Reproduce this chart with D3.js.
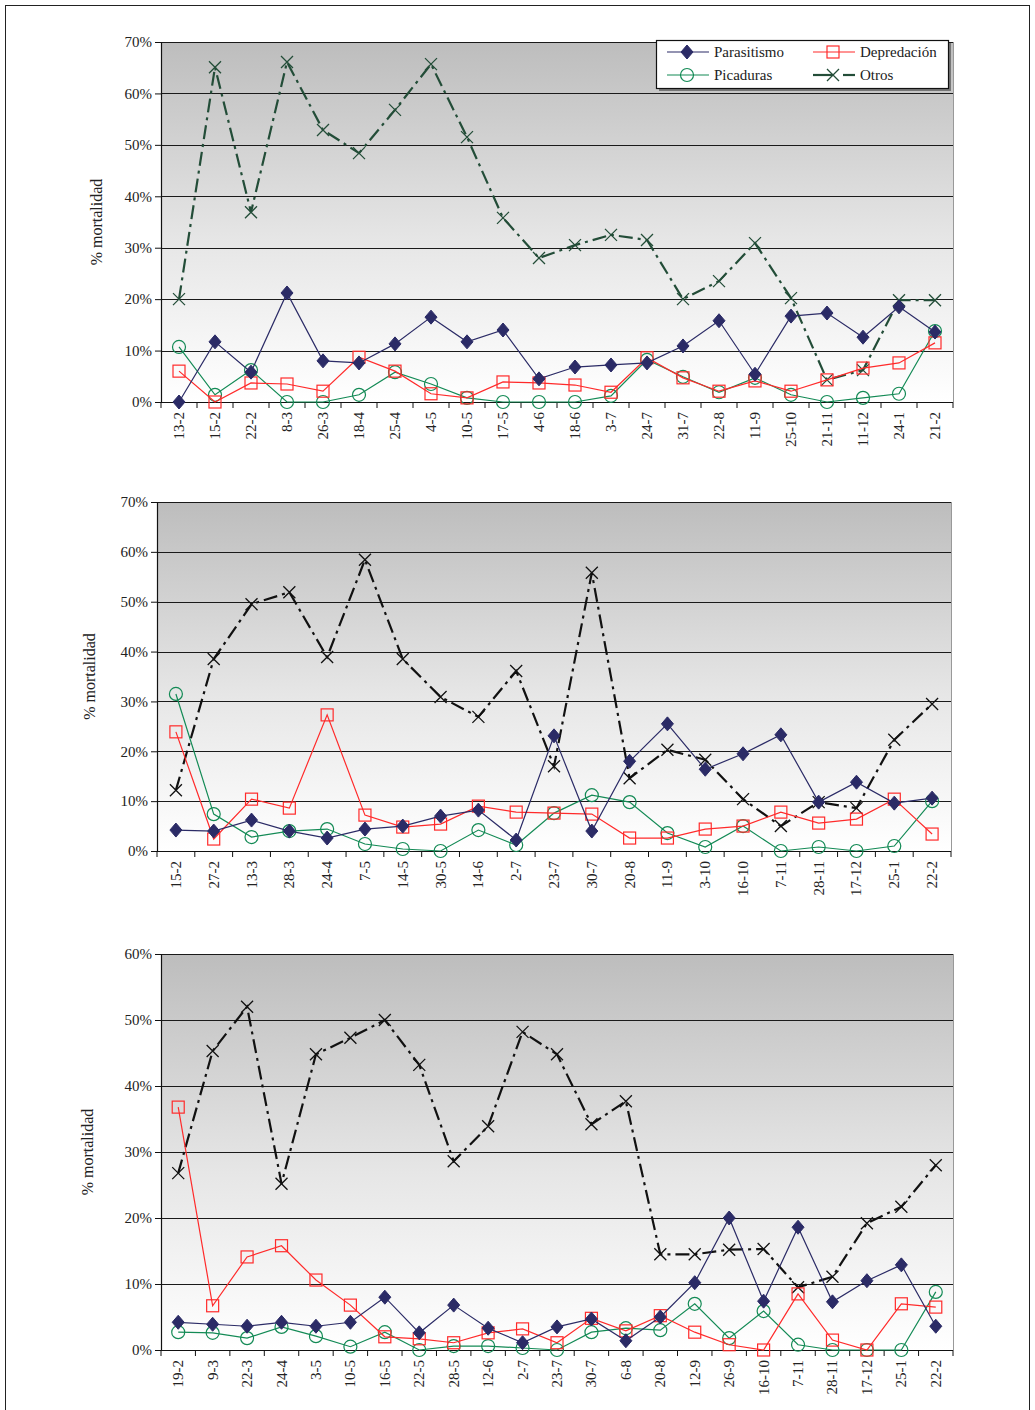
<!DOCTYPE html>
<html><head><meta charset="utf-8">
<script src="https://cdn.jsdelivr.net/npm/d3@7"></script>
<style>body{margin:0;background:#fff}svg{display:block}</style>
</head><body>
<script>
const seriesNames = ["Parasitismo","Depredación","Picaduras","Otros"];

const cats1 = ["13-2","15-2","22-2","8-3","26-3","18-4","25-4","4-5","10-5","17-5","4-6","18-6","3-7","24-7","31-7","22-8","11-9","25-10","21-11","11-12","24-1","21-2"];
const par1 = [0,11.7,5.8,21.2,8.0,7.6,11.3,16.5,11.7,14.0,4.5,6.8,7.2,7.6,10.9,15.8,5.4,16.7,17.3,12.6,18.5,13.6];
const dep1 = [6.0,0,3.7,3.5,2.1,8.7,6.0,1.6,0.8,3.9,3.7,3.3,1.9,8.6,4.7,2.1,4.1,2.1,4.3,6.6,7.6,11.5];
const pic1 = [10.7,1.4,6.2,0,0,1.4,5.8,3.5,0.8,0,0,0,1.2,8.2,4.9,1.9,4.7,1.4,0,0.8,1.6,13.8];
const otr1 = [20.0,65.1,36.9,66.1,52.9,48.4,56.8,65.7,51.5,35.8,28.0,30.5,32.5,31.5,20.0,23.5,30.9,20.2,4.3,6.2,19.8,19.8];

const cats2 = ["15-2","27-2","13-3","28-3","24-4","7-5","14-5","30-5","14-6","2-7","23-7","30-7","20-8","11-9","3-10","16-10","7-11","28-11","17-12","25-1","22-2"];
const par2 = [4.2,4.0,6.2,4.0,2.6,4.4,5.0,7.0,8.2,2.2,23.1,4.0,18.0,25.5,16.4,19.5,23.3,9.8,13.8,9.6,10.6];
const dep2 = [23.9,2.4,10.4,8.6,27.3,7.2,4.8,5.4,9.0,7.8,7.6,7.4,2.6,2.6,4.4,5.0,7.8,5.6,6.4,10.4,3.4];
const pic2 = [31.5,7.4,2.8,4.0,4.4,1.4,0.4,0,4.2,1.2,7.6,11.2,9.8,3.6,0.8,5.0,0,0.8,0,1.0,10.0];
const otr2 = [12.2,38.5,49.5,51.9,38.9,58.4,38.5,30.9,26.9,36.1,17.0,55.8,14.6,20.3,18.3,10.4,5.0,9.8,8.6,22.3,29.5];

const cats3 = ["19-2","9-3","22-3","24-4","3-5","10-5","16-5","22-5","28-5","12-6","2-7","23-7","30-7","6-8","20-8","12-9","26-9","16-10","7-11","28-11","17-12","25-1","22-2"];
const par3 = [4.2,3.9,3.6,4.2,3.6,4.2,8.0,2.6,6.8,3.3,1.1,3.5,4.7,1.4,5.0,10.2,20.0,7.4,18.6,7.3,10.5,12.9,3.6];
const dep3 = [36.8,6.7,14.1,15.8,10.6,6.8,2.0,1.7,1.1,2.6,3.2,1.1,4.8,2.9,5.2,2.7,0.8,0,8.5,1.5,0,7.0,6.5];
const pic3 = [2.7,2.6,1.8,3.5,2.1,0.5,2.7,0,0.6,0.6,0.3,0,2.7,3.3,3.0,7.0,1.8,5.9,0.8,0,0,0,8.8];
const otr3 = [26.8,45.3,52.0,25.2,44.8,47.3,50.0,43.2,28.6,33.9,48.2,44.8,34.2,37.7,14.5,14.5,15.2,15.3,9.5,11.1,19.2,21.7,28.0];

const yTicks12 = [0,10,20,30,40,50,60,70];
const yTicks3 = [0,10,20,30,40,50,60];

const W = 1035, H = 1410;
const svg = d3.select("body").append("svg").attr("width", W).attr("height", H)
  .style("font-family", "'Liberation Serif','Times New Roman',serif");

const defs = svg.append("defs");
const grad = defs.append("linearGradient").attr("id","bg").attr("x1",0).attr("y1",0).attr("x2",0).attr("y2",1);
grad.append("stop").attr("offset","0%").attr("stop-color","#bdbdbd");
grad.append("stop").attr("offset","55%").attr("stop-color","#e6e6e6");
grad.append("stop").attr("offset","100%").attr("stop-color","#ffffff");

svg.append("rect").attr("x",5.5).attr("y",5.5).attr("width",1024).attr("height",1430)
  .attr("fill","none").attr("stroke","#222").attr("stroke-width",1);

const COL = {par:"#2b2b66", dep:"#ff2a2a", pic:"#138a55"};
const OTR_DASH = "14,5,3,5";

function marker(g, type, x, y, color) {
  if (type === "par") {
    g.append("path").attr("transform",`translate(${x},${y})`)
      .attr("d","M0,-7L6,0L0,7L-6,0Z").attr("fill",color).attr("stroke",color);
  } else if (type === "dep") {
    g.append("rect").attr("x",x-6).attr("y",y-6).attr("width",12).attr("height",12)
      .attr("fill","none").attr("stroke",color).attr("stroke-width",1.2);
  } else if (type === "pic") {
    g.append("circle").attr("cx",x).attr("cy",y).attr("r",6.5)
      .attr("fill","none").attr("stroke",color).attr("stroke-width",1.2);
  } else {
    g.append("path").attr("transform",`translate(${x},${y})`)
      .attr("d","M-6,-6L6,6M-6,6L6,-6").attr("fill","none").attr("stroke",color).attr("stroke-width",1.3);
  }
}

function drawChart(cfg) {
  const {cats, par, dep, pic, otr, x0, x1, yTop, yBot, ticks, otrColor, ylabX} = cfg;
  const g = svg.append("g");
  const x = d3.scaleBand().domain(cats).range([x0, x1]);
  const maxV = ticks[ticks.length-1];
  const y = d3.scaleLinear().domain([0, maxV]).range([yBot, yTop]);

  g.append("rect").attr("x",x0).attr("y",yTop).attr("width",x1-x0).attr("height",yBot-yTop)
    .attr("fill","url(#bg)");
  g.selectAll(".grid").data(ticks.filter(t=>t>0)).join("line")
    .attr("x1",x0).attr("x2",x1).attr("y1",d=>Math.round(y(d))+0.5).attr("y2",d=>Math.round(y(d))+0.5)
    .attr("stroke","#1a1a1a").attr("stroke-width",1.2);
  g.append("line").attr("x1",x1+0.5).attr("x2",x1+0.5).attr("y1",yTop).attr("y2",yBot).attr("stroke","#999");

  const ya = g.append("g").attr("transform",`translate(${x0},0)`)
    .call(d3.axisLeft(y).tickValues(ticks).tickFormat(d=>d+"%").tickSize(6).tickPadding(3));
  ya.select(".domain").attr("stroke","#111").attr("stroke-width",1.2);
  ya.selectAll("text").attr("font-size",15).attr("fill","#222").attr("font-family","'Liberation Serif',serif");
  ya.selectAll("line").attr("stroke","#111");

  const xa = g.append("g").attr("transform",`translate(0,${yBot})`);
  xa.append("line").attr("x1",x0).attr("x2",x1).attr("y1",0.5).attr("y2",0.5).attr("stroke","#111").attr("stroke-width",1.2);
  const bounds = cats.map(c=>x(c)).concat([x1]);
  xa.selectAll(".tk").data(bounds).join("line")
    .attr("x1",d=>d).attr("x2",d=>d).attr("y1",0).attr("y2",6).attr("stroke","#111");
  xa.selectAll(".lbl").data(cats).join("text")
    .attr("transform",d=>`translate(${x(d)+x.bandwidth()/2+5},10) rotate(-90)`)
    .attr("text-anchor","end").attr("font-size",15).attr("fill","#222").text(d=>d);

  g.append("text").attr("transform",`translate(${ylabX},${(yTop+yBot)/2}) rotate(-90)`)
    .attr("text-anchor","middle").attr("font-size",16).attr("fill","#222").text("% mortalidad");

  const cx = d => x(d) + x.bandwidth()/2;
  const line = d3.line().x(d=>cx(d.c)).y(d=>y(d.v));
  const mk = arr => cats.map((c,i)=>({c, v: arr[i]}));

  g.append("path").attr("d", line(mk(otr))).attr("fill","none").attr("stroke",otrColor)
    .attr("stroke-width",2.2).attr("stroke-dasharray",OTR_DASH);
  mk(otr).forEach(d=>marker(g,"otr",cx(d.c),y(d.v),otrColor));
  g.append("path").attr("d", line(mk(pic))).attr("fill","none").attr("stroke",COL.pic).attr("stroke-width",1.2);
  mk(pic).forEach(d=>marker(g,"pic",cx(d.c),y(d.v),COL.pic));
  g.append("path").attr("d", line(mk(dep))).attr("fill","none").attr("stroke",COL.dep).attr("stroke-width",1.2);
  mk(dep).forEach(d=>marker(g,"dep",cx(d.c),y(d.v),COL.dep));
  g.append("path").attr("d", line(mk(par))).attr("fill","none").attr("stroke",COL.par).attr("stroke-width",1.2);
  mk(par).forEach(d=>marker(g,"par",cx(d.c),y(d.v),COL.par));
}

drawChart({cats:cats1, par:par1, dep:dep1, pic:pic1, otr:otr1, x0:161, x1:953, yTop:42, yBot:402, ticks:yTicks12, otrColor:"#234d38", ylabX:102});
drawChart({cats:cats2, par:par2, dep:dep2, pic:pic2, otr:otr2, x0:157, x1:951, yTop:502, yBot:851, ticks:yTicks12, otrColor:"#111", ylabX:95});
drawChart({cats:cats3, par:par3, dep:dep3, pic:pic3, otr:otr3, x0:161, x1:953, yTop:954, yBot:1350, ticks:yTicks3, otrColor:"#111", ylabX:93});

// legend
const lg = svg.append("g");
lg.append("rect").attr("x",659).attr("y",43).attr("width",292).attr("height",48).attr("fill","#777");
lg.append("rect").attr("x",656.5).attr("y",40.5).attr("width",292).attr("height",48).attr("fill","#fff").attr("stroke","#111").attr("stroke-width",1.2);
const legItems = [
  {name:seriesNames[0], type:"par", color:COL.par, lx:667, ly:52},
  {name:seriesNames[1], type:"dep", color:COL.dep, lx:813, ly:52},
  {name:seriesNames[2], type:"pic", color:COL.pic, lx:667, ly:75},
  {name:seriesNames[3], type:"otr", color:"#234d38", lx:813, ly:75}
];
legItems.forEach(it=>{
  if (it.type === "otr") {
    lg.append("line").attr("x1",it.lx).attr("x2",it.lx+20).attr("y1",it.ly).attr("y2",it.ly)
      .attr("stroke",it.color).attr("stroke-width",2.2);
    lg.append("line").attr("x1",it.lx+30).attr("x2",it.lx+42).attr("y1",it.ly).attr("y2",it.ly)
      .attr("stroke",it.color).attr("stroke-width",2.2);
  } else {
    lg.append("line").attr("x1",it.lx).attr("x2",it.lx+42).attr("y1",it.ly).attr("y2",it.ly)
      .attr("stroke",it.color).attr("stroke-width",1.2);
  }
  marker(lg, it.type, it.lx+20, it.ly, it.color);
  lg.append("text").attr("x",it.lx+47).attr("y",it.ly+5).attr("font-size",15).attr("fill","#222").text(it.name);
});
</script>
</body></html>
